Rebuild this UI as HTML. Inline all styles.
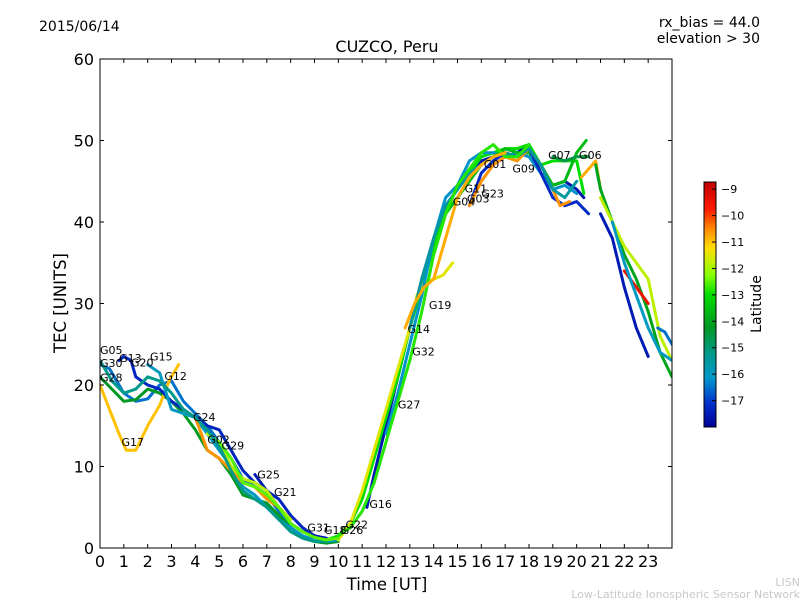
<!DOCTYPE html>
<html><head><meta charset="utf-8"><style>
body{margin:0;background:#fff;}
svg text{font-family:"DejaVu Sans","Liberation Sans",sans-serif;}
</style></head><body>
<svg id="chart" width="800" height="600" xmlns="http://www.w3.org/2000/svg">
<defs>
<linearGradient id="cmap" x1="0" y1="0" x2="0" y2="1">
<stop offset="0" stop-color="#c00000"/>
<stop offset="0.11" stop-color="#ff1a00"/>
<stop offset="0.19" stop-color="#ff8800"/>
<stop offset="0.27" stop-color="#ffdd00"/>
<stop offset="0.38" stop-color="#88ff00"/>
<stop offset="0.46" stop-color="#00dd00"/>
<stop offset="0.59" stop-color="#009922"/>
<stop offset="0.70" stop-color="#00998a"/>
<stop offset="0.80" stop-color="#0099cc"/>
<stop offset="0.90" stop-color="#0033cc"/>
<stop offset="1" stop-color="#000099"/>
</linearGradient>
<clipPath id="pclip"><rect x="100" y="59" width="572" height="489"/></clipPath>
</defs>
<text x="39" y="31" font-size="14">2015/06/14</text>
<text x="760" y="27" font-size="14" text-anchor="end">rx_bias = 44.0</text>
<text x="760" y="43" font-size="14" text-anchor="end">elevation &gt; 30</text>
<text x="387" y="52" font-size="16" text-anchor="middle">CUZCO, Peru</text>
<g id="marks" clip-path="url(#pclip)"></g>
<g id="labels"></g>
<rect x="100" y="59" width="572" height="489" fill="none" stroke="#000" stroke-width="1"/>
<g id="axes"></g>
<text x="387" y="590" font-size="16.5" text-anchor="middle">Time [UT]</text>
<text transform="translate(66,303) rotate(-90)" font-size="16.5" text-anchor="middle">TEC [UNITS]</text>
<rect x="704" y="182" width="12" height="245" fill="url(#cmap)" stroke="#000" stroke-width="1"/>
<g id="cbticks"></g>
<text transform="translate(761,304) rotate(-90)" font-size="14" text-anchor="middle">Latitude</text>
<text x="800" y="586" font-size="11" fill="#c8c8c8" text-anchor="end">LISN</text>
<text x="800" y="598" font-size="11" fill="#c8c8c8" text-anchor="end">Low-Latitude Ionospheric Sensor Network</text>
</svg>
<script>
const xTicks=[0,1,2,3,4,5,6,7,8,9,10,11,12,13,14,15,16,17,18,19,20,21,22,23];
const yTicks=[0,10,20,30,40,50,60];
const cbTicks=[-9,-10,-11,-12,-13,-14,-15,-16,-17];
const trackNames=["G30","G28","G17","G13","G15","G24","G25","G21","G02","G16","G27","G19","G32","G11","G01","G09","G07","G06","D1","D2","D3","D4","D5","D6","G05","G29","G04","G22","G14"];
const trackLat=[-16.5,-14.2,-11,-17.3,-16,-10.6,-17.5,-9.8,-11.8,-17.6,-13,-11.5,-16.2,-13.6,-17.2,-10.6,-14.5,-10.8,-14,-11.8,-9.5,-17.5,-16,-16.5,-15.2,-12.5,-15.5,-12.8,-10.8];
const trackHours=[
[0,0.4,1,1.5,2,2.5,3,3.5,4,4.5,5,5.5,6,6.5,7,7.5,8,8.5,9],
[0,0.5,1,1.5,2,2.5,3,3.5,4,4.5,5,5.5,6,6.5,7,7.5,8,8.5,9,9.5,10],
[0,0.4,0.8,1.1,1.5,2,2.5,2.9,3.3],
[0.8,1,1.3,1.5,2,2.5,3,3.5,4,4.5,5,5.5,6,6.5,7,7.5,8,8.5,9,9.5],
[2,2.5,3,3.5,4,4.5,5,5.5,6,6.5,7,7.5,8,8.5,9,9.5,10],
[4,4.5,5,5.5,6,6.5,7,7.5,8],
[6.5,7,7.5,8,8.5,9,9.5],
[7,7.5,8],
[4.5,5,5.5,6,6.5,7,7.5,8],
[11.2,11.5,12,12.5,13,13.5,14,14.5,15,15.5,16,16.5,17,17.5,18,18.5,19,19.5,20,20.3],
[9.5,10,10.5,11,11.5,12,12.5,13,13.5,14,14.5,15,15.5,16,16.5,17,17.5,18,18.5,19,19.5,20,20.3],
[10,10.5,11,11.5,12,12.5,13,13.3,13.6,14,14.4,14.8],
[12,12.5,13,13.5,14,14.5,15,15.5,16,16.5,17,17.5,18,18.5,19,19.5,20],
[14,14.5,15,15.5,16,16.5,17,17.5,18,18.5,19,19.5,20,20.4],
[15.5,16,16.5,17,17.5,18,18.5,19,19.5,20,20.5],
[15.5,16,16.5,17,17.5,18,18.5,19,19.3,19.7],
[19,19.5,20,20.5],
[20.2,20.5,20.8,21],
[20.8,21,21.5,22,22.5,23,23.5,24],
[21,21.5,22,22.5,23,23.5,24],
[22,22.5,23],
[21,21.5,22,22.5,23],
[21.5,22,22.5,23,23.5,24],
[23.4,23.7,24],
[0,0.5,1,1.5,2,2.5,3,3.5,4,4.5,5,5.5,6,6.5,7,7.5,8,8.5,9,9.5],
[5,5.5,6,6.5,7,7.5,8,8.5,9,9.5,10],
[13,13.5,14,14.5,15,15.5,16,16.5,17,17.5,18,18.5,19,19.5,20],
[10,10.5,11,11.5,12,12.5,13,13.5,14,14.5,15,15.5,16,16.5,17,17.5,18],
[12.8,13.2,13.6,14,14.5,15,15.5,16,16.5,17]
];
const trackTec=[
[22.5,22,19,18,18.3,20,20.5,18,16.5,15,13,11,8.5,7.5,6.5,4.5,3,2,1.5],
[21,19.5,18,18.2,19.5,19,18,16.5,14.5,12,11,9,6.5,6,5.5,4,2.5,1.3,0.8,0.6,0.8],
[20,17,14,12,12,15,17.5,20.5,22.5],
[23,23.5,23,21,20,19.5,18,17,16,15,14.5,12,9.5,8,7,6,4,2.5,1.5,1],
[22.5,21.5,17,16.5,16,14,12,10,7.5,6.5,5,3.5,2.5,1.5,1,0.8,1],
[16,12,11,9.5,8,7.5,6,5,3],
[9,7,5,3,2,1.5,1.2],
[6.5,5,3.5],
[14,13,10,8.5,8,7,5,3.5],
[5,9,15,21,27,33,38,42,44,46,47.5,48,49,48.5,49.5,46,44.5,45,44,43],
[1,1.5,3,6,11,16,21,27,32,37,41,44.5,46,48,48.5,49,49,49.5,47,47.5,47.5,47.5,43.5],
[1,3,7,12,17,22,27,31,32.5,33,33.5,35],
[14,19,25,31,38,43,44.5,47.5,48.5,48.5,48,48.5,48,46,44,44.5,43.5],
[36,41,43,45,47,48,49,48.5,48.5,47,44.5,45,48.5,50],
[42,46,47.5,48.5,48,49,46,43,42,42.5,41],
[42,45,47,48,47.5,49,47,44,42,42.5],
[48,47.5,48,48],
[45.5,46.5,47.5,44],
[47,44,40,36,33,29,24,21],
[43,40,37,35,33,26,23],
[34,32,30],
[41,38,32,27,23.5],
[40,35,31,27,24,23],
[27,26.5,25],
[23,20.5,19,19.5,21,20.5,19,17,16,14.5,12.5,9.5,7,6,5,3.5,2,1.2,0.8,0.8],
[13,11,8,7.5,6.5,5,3,2,1.3,1,1.2],
[27,33,38,42,44,46,47,48,48.5,48,49,47,44,43,45],
[1.5,2.5,4.5,8,13,18,23,29,36,41,44.5,46.5,48.5,49.5,48,48,49.5],
[27,30,32,33,38,43,45.5,47,48,48.5]
];
const labelNames=["G05","G30","G13","G20","G15","G12","G28","G17","G24","G02","G29","G25","G21","G31","G18","G26","G22","G16","G27","G32","G14","G19","G04","G11","G03","G23","G01","G09","G07","G06"];
const labelHour=[0,0,0.8,1.3,2.1,2.7,0,0.9,3.9,4.5,5.1,6.6,7.3,8.7,9.4,10.1,10.3,11.3,12.5,13.1,12.9,13.8,14.8,15.3,15.4,16,16.1,17.3,18.8,20.1];
const labelTec=[23.8,22.2,22.8,22.3,23,20.6,20.4,12.5,15.6,12.8,12.1,8.5,6.4,2,1.7,1.7,2.4,4.9,17.1,23.6,26.4,29.3,42,43.6,42.4,43,46.6,46.1,47.7,47.7];
const X=h=>100+h*(572/24);
const Y=v=>548-v*(489/60);
const LY=l=>182+( -8.73-l)*(245/9.27);
const NS="http://www.w3.org/2000/svg";
const stops=[[-8.73,[192,0,0]],[-9.75,[255,26,0]],[-10.5,[255,136,0]],[-11.23,[255,221,0]],[-12.25,[136,255,0]],[-13,[0,221,0]],[-14.2,[0,153,34]],[-15.2,[0,153,138]],[-16.15,[0,153,204]],[-17.07,[0,51,204]],[-18,[0,0,153]]];
function col(l){for(let i=0;i<stops.length-1;i++){const a=stops[i],b=stops[i+1];if(l<=a[0]&&l>=b[0]){const t=(a[0]-l)/(a[0]-b[0]);const c=a[1].map((v,k)=>Math.round(v+(b[1][k]-v)*t));return `rgb(${c})`;}}return l>-8.73?"rgb(192,0,0)":"rgb(0,0,153)";}
const marks=document.getElementById('marks');
trackHours.forEach((hs,i)=>{
 const p=document.createElementNS(NS,'polyline');
 p.setAttribute('points',hs.map((h,j)=>X(h).toFixed(1)+','+Y(trackTec[i][j]).toFixed(1)).join(' '));
 p.setAttribute('fill','none');p.setAttribute('stroke',col(trackLat[i]));p.setAttribute('stroke-width','3');
 p.setAttribute('stroke-linejoin','round');p.setAttribute('stroke-linecap','round');
 
 
 marks.appendChild(p);
});
const labels=document.getElementById('labels');
labelNames.forEach((n,i)=>{
 const t=document.createElementNS(NS,'text');
 t.setAttribute('x',X(labelHour[i]));t.setAttribute('y',Y(labelTec[i]));t.setAttribute('font-size','11');
 t.textContent=n;
 
 
 labels.appendChild(t);
});
const axes=document.getElementById('axes');
function add(tag,attrs,txt){const e=document.createElementNS(NS,tag);for(const k in attrs)e.setAttribute(k,attrs[k]);if(txt!==undefined)e.textContent=txt;return e;}
xTicks.forEach(h=>{
 const x=X(h);
 const l1=add('line',{x1:x,x2:x,y1:548,y2:544,stroke:'#000'});
 
 
 axes.appendChild(l1);
 const l2=add('line',{x1:x,x2:x,y1:59,y2:63,stroke:'#000'});
 
 
 axes.appendChild(l2);
 const t=add('text',{x:x,y:567,'font-size':16,'text-anchor':'middle'},String(h));
 
 
 axes.appendChild(t);
});
yTicks.forEach(v=>{
 const y=Y(v);
 const l1=add('line',{x1:100,x2:104,y1:y,y2:y,stroke:'#000'});
 
 
 axes.appendChild(l1);
 const l2=add('line',{x1:668,x2:672,y1:y,y2:y,stroke:'#000'});
 
 
 axes.appendChild(l2);
 const t=add('text',{x:94,y:y+6,'font-size':16,'text-anchor':'end'},String(v));
 
 
 axes.appendChild(t);
});
const cb=document.getElementById('cbticks');
cbTicks.forEach(l=>{
 const y=LY(l);
 const ln=add('line',{x1:712,x2:716,y1:y,y2:y,stroke:'#000'});
 
 
 cb.appendChild(ln);
 const t=add('text',{x:721,y:y+4,'font-size':11},'\u2212'+Math.abs(l));
 
 
 cb.appendChild(t);
});
</script>
</body></html>
